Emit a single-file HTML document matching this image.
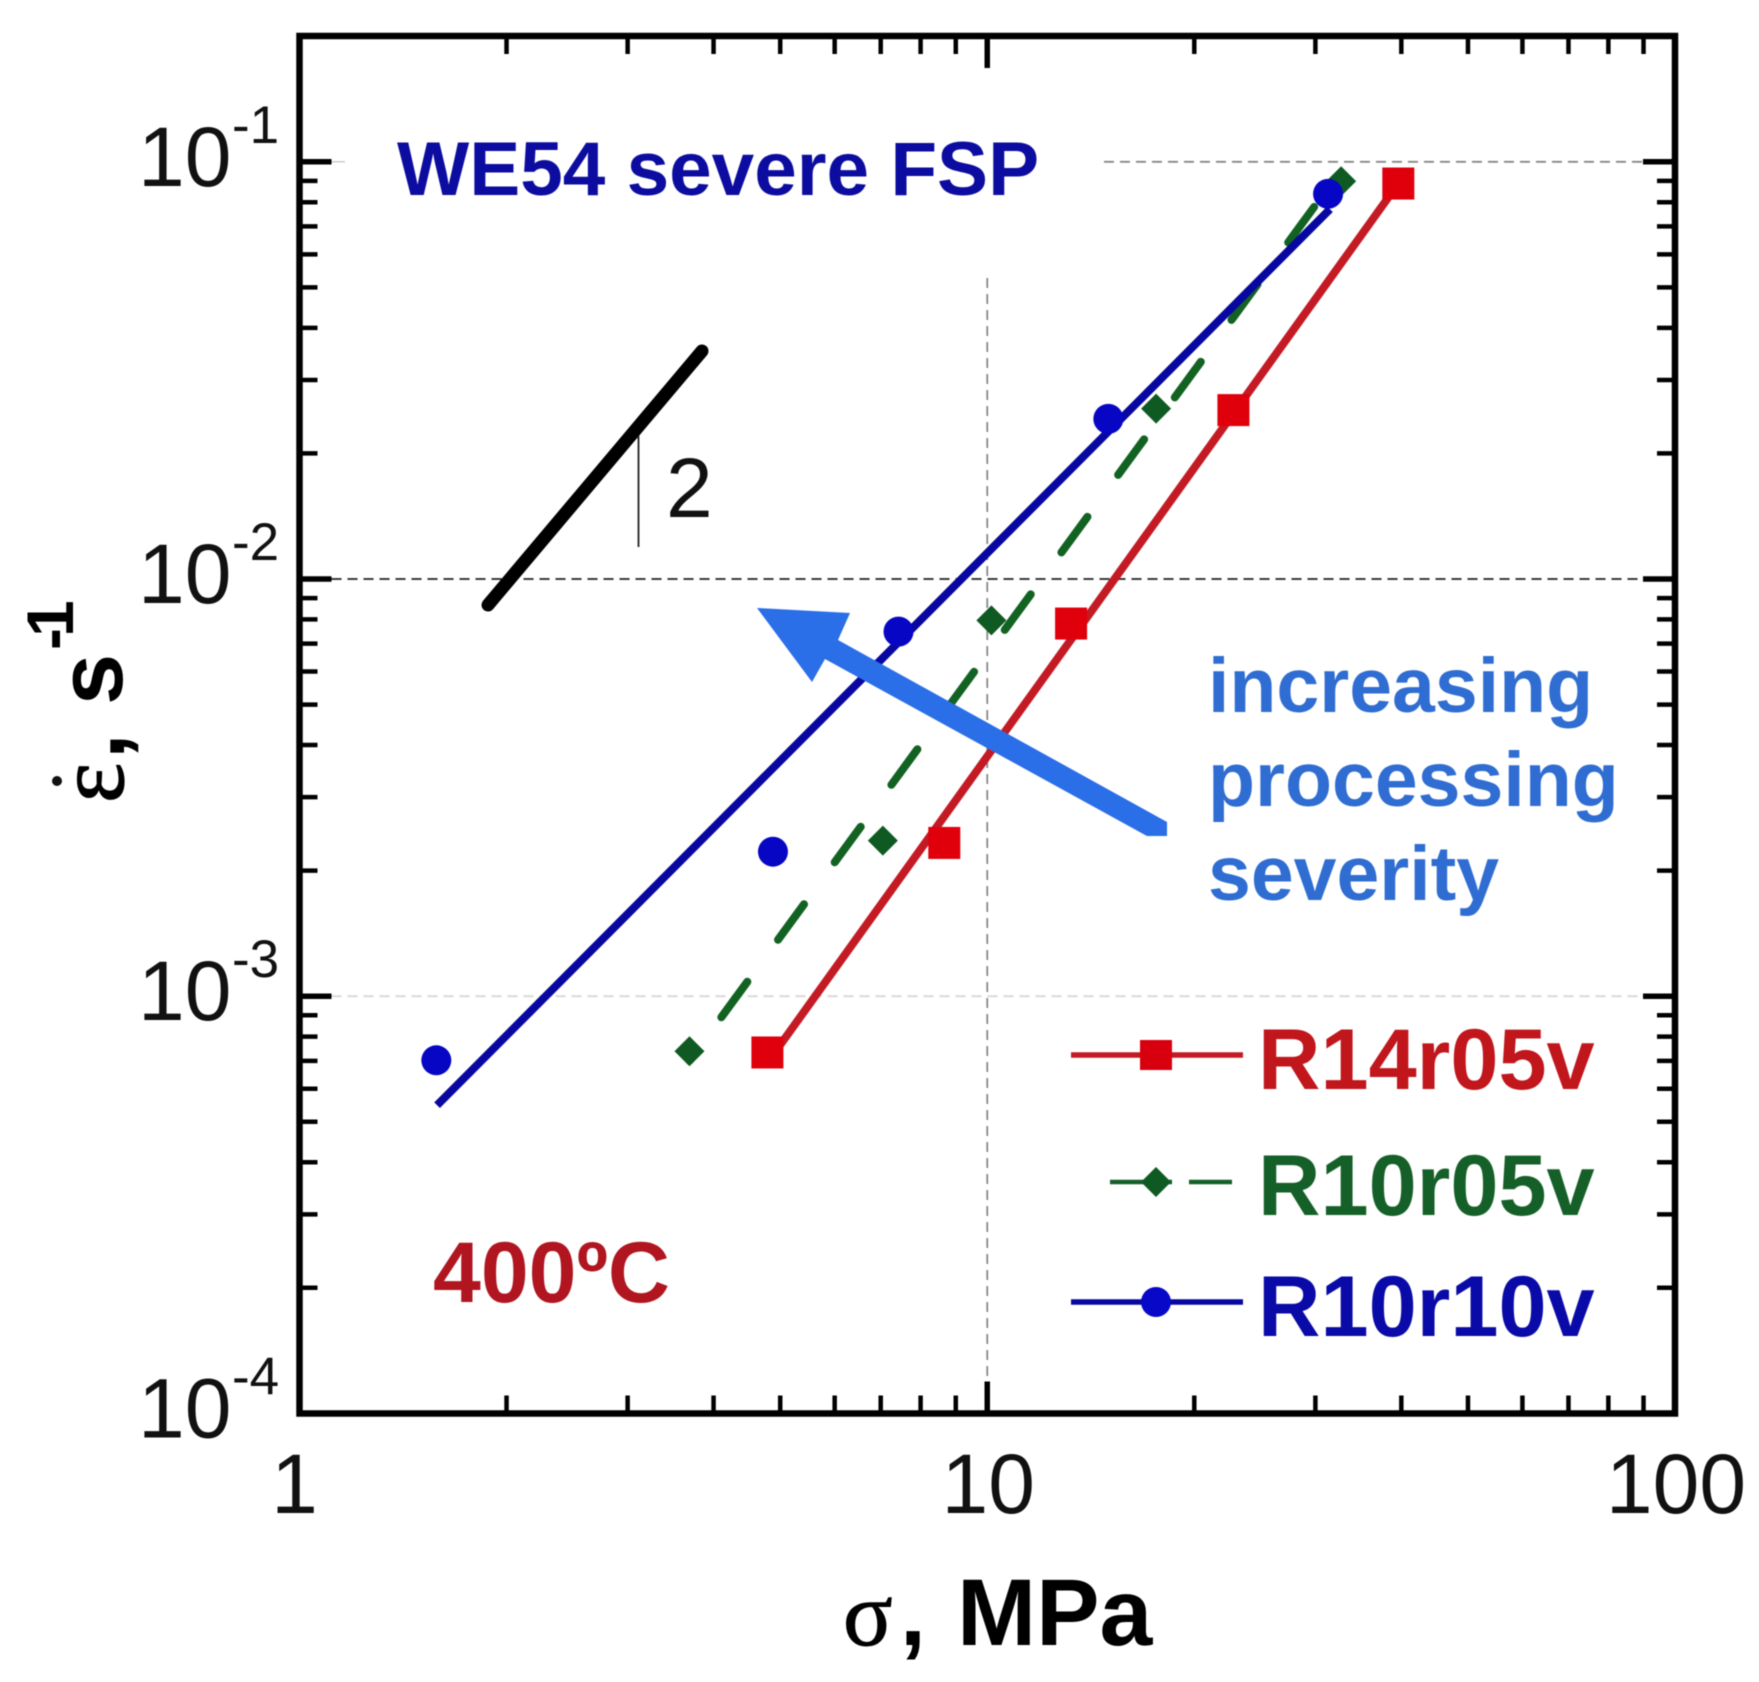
<!DOCTYPE html>
<html lang="en">
<head>
<meta charset="utf-8">
<title>WE54 severe FSP strain rate vs stress</title>
<style>
html,body{margin:0;padding:0;background:#fff;width:1759px;height:1682px;overflow:hidden}
svg{display:block;filter:blur(0.6px)}
text{font-family:"Liberation Sans",Arial,sans-serif}
.serif{font-family:"Liberation Serif","Times New Roman",serif}
</style>
</head>
<body>
<svg id="chart" xmlns="http://www.w3.org/2000/svg" width="1759" height="1682" viewBox="0 0 1759 1682">
<rect x="0" y="0" width="1759" height="1682" fill="#fff"/>
<g id="grid"></g>
<g id="ticks"></g>
<g id="series"></g>
<rect x="299.5" y="36" width="1375.5" height="1377.5" fill="none" stroke="#000" stroke-width="6.5"/>

<g>
<line x1="488" y1="605" x2="702" y2="351" stroke="#000" stroke-width="13" stroke-linecap="round"/>
<line x1="638.5" y1="436" x2="638.5" y2="547" stroke="#222" stroke-width="1.8"/>
<text x="666" y="517" font-size="84" fill="#111">2</text>
</g>

<polygon points="757,608 850,613 838,640 1167,822 1167,836 1147,836 825,659 812,682" fill="#2a6ee8"/>

<text x="397" y="195" font-size="76.5" font-weight="700" fill="#0c0ca0">WE54 severe FSP</text>
<text x="433" y="1302" font-size="86" font-weight="700" fill="#b01520">400ºC</text>
<g font-size="77" font-weight="700" fill="#2f6dd2">
<text x="1208" y="712">increasing</text>
<text x="1208" y="806">processing</text>
<text x="1208" y="900">severity</text>
</g>

<g>
<g>
<line x1="1071" y1="1055" x2="1243" y2="1055" stroke="#c41a24" stroke-width="5.5"/>
<rect x="1140" y="1040" width="32" height="30" fill="#d8000f"/>
<text x="1258" y="1089" font-size="86.5" font-weight="700" fill="#c0161c">R14r05v</text>
</g>
<g>
<line x1="1110" y1="1182" x2="1172" y2="1182" stroke="#156028" stroke-width="4.5"/>
<line x1="1189" y1="1182" x2="1232" y2="1182" stroke="#156028" stroke-width="4.5"/>
<polygon points="1156,1167 1171,1182 1156,1197 1141,1182" fill="#0f5a22"/>
<text x="1258" y="1215" font-size="86.5" font-weight="700" fill="#156028">R10r05v</text>
</g>
<g>
<line x1="1071" y1="1302" x2="1243" y2="1302" stroke="#0808a0" stroke-width="5.5"/>
<circle cx="1156" cy="1302" r="15" fill="#0808c8"/>
<text x="1258" y="1336" font-size="86.5" font-weight="700" fill="#0a0aa8">R10r10v</text>
</g>
</g>

<g fill="#000">
<text class="serif" x="843" y="1645" font-size="92" stroke="#000" stroke-width="1">σ</text>
<text x="900" y="1645" font-size="93" font-weight="700">,</text>
<text x="957" y="1645" font-size="95" font-weight="700">MPa</text>
</g>
<g fill="#000">
<circle cx="57" cy="781" r="5" fill="#111"/>
<text class="serif" transform="translate(123 803) rotate(-90)" font-size="96" stroke="#000" stroke-width="1.2">ε</text>
<text transform="translate(124 759) rotate(-90)" font-size="92" font-weight="700">,</text>
<text transform="translate(122 705) rotate(-90)" font-size="92" font-weight="700">s</text>
<text transform="translate(73 650) rotate(-90)" font-size="66" font-weight="700" letter-spacing="-9">-1</text>
</g>
<g id="tick-labels"></g>
</svg>

<script>
// Axis decades and tick labels
const xTickValues = [1, 10, 100];
const xTickLabels = ["1", "10", "100"];
const yTickValues = [1e-1, 1e-2, 1e-3, 1e-4];
const yTickBases = ["10", "10", "10", "10"];
const yTickExponents = ["-1", "-2", "-3", "-4"];
const minorMultipliers = [2, 3, 4, 5, 6, 7, 8, 9];

// R14r05v: measured points and fitted line
const r14Stress = [4.79, 8.66, 13.24, 22.8, 39.6];
const r14Rate = [7.33e-4, 2.33e-3, 7.82e-3, 2.54e-2, 8.87e-2];
const r14FitStress = [4.91, 39.6];
const r14FitRate = [7.33e-4, 8.87e-2];

// R10r05v: measured points and fitted line
const r10r05Stress = [3.69, 7.05, 10.14, 17.6, 32.7];
const r10r05Rate = [7.38e-4, 2.36e-3, 7.96e-3, 2.56e-2, 8.98e-2];
const r10r05FitStress = [3.69, 32.0];
const r10r05FitRate = [7.0e-4, 9.1e-2];

// R10r10v: measured points and fitted line
const r10r10Stress = [1.581, 4.88, 7.43, 15.0, 31.3];
const r10r10Rate = [7.02e-4, 2.22e-3, 7.48e-3, 2.42e-2, 8.38e-2];
const r10r10FitStress = [1.585, 31.5];
const r10r10FitRate = [5.48e-4, 7.7e-2];

const NS = 'http://www.w3.org/2000/svg';
const PLOT_LEFT = 299.5, X_DECADE = 687.75;
const Y_TOP_DECADE = 161.8, Y_DECADE = 417.2;

function sx(v) { return PLOT_LEFT + Math.log10(v) * X_DECADE; }
function sy(v) { return Y_TOP_DECADE + (-1 - Math.log10(v)) * Y_DECADE; }
function make(tag, attrs, parent, txt) {
  const el = document.createElementNS(NS, tag);
  for (const k in attrs) el.setAttribute(k, attrs[k]);
  if (txt !== undefined) el.textContent = txt;
  parent.appendChild(el);
  return el;
}

const gridG = document.getElementById('grid');
const ticksG = document.getElementById('ticks');
const seriesG = document.getElementById('series');
const labelsG = document.getElementById('tick-labels');
const frameL = 299.5, frameR = 1675, frameT = 36, frameB = 1413.5;

// Grid lines
const g1a = make('line', {x1: 1104, x2: frameR, y1: sy(1e-1), y2: sy(1e-1), stroke: '#888', 'stroke-width': 1.8, 'stroke-dasharray': '10 6'}, gridG);


const g1b = make('line', {x1: 303, x2: 345, y1: sy(1e-1), y2: sy(1e-1), stroke: '#ccc', 'stroke-width': 1.5}, gridG);


const g2 = make('line', {x1: frameL, x2: frameR, y1: sy(1e-2), y2: sy(1e-2), stroke: '#222', 'stroke-width': 1.8, 'stroke-dasharray': '10 6'}, gridG);


const g3 = make('line', {x1: frameL, x2: frameR, y1: sy(1e-3), y2: sy(1e-3), stroke: '#d8d8d8', 'stroke-width': 1.8, 'stroke-dasharray': '10 6'}, gridG);


const gx = make('line', {x1: sx(10), x2: sx(10), y1: 278, y2: frameB, stroke: '#888', 'stroke-width': 1.8, 'stroke-dasharray': '10 6'}, gridG);



// X ticks, top and bottom
xTickValues.forEach(function (dec, i) {
  if (i < xTickValues.length - 1) {
    minorMultipliers.forEach(function (m) {
      const x = sx(dec * m);
      const b = make('line', {x1: x, x2: x, y1: frameB, y2: frameB - 18, stroke: '#000', 'stroke-width': 4.5}, ticksG);
      
      
      const t = make('line', {x1: x, x2: x, y1: frameT, y2: frameT + 18, stroke: '#000', 'stroke-width': 4.5}, ticksG);
      
      
    });
  }
  const x = sx(dec);
  const mb = make('line', {x1: x, x2: x, y1: frameB, y2: frameB - 32, stroke: '#000', 'stroke-width': 5.5}, ticksG);
  
  
  const mt = make('line', {x1: x, x2: x, y1: frameT, y2: frameT + 32, stroke: '#000', 'stroke-width': 5.5}, ticksG);
  
  
  const lab = make('text', {x: x + (i === 0 ? -5 : 1), y: 1513, 'font-size': 84, fill: '#111', 'text-anchor': 'middle'}, labelsG, xTickLabels[i]);
  
  
});

// Y ticks, left and right
yTickValues.forEach(function (dec, i) {
  minorMultipliers.forEach(function (m) {
    const v = dec * m;
    if (v > 0.2) return;
    const y = sy(v);
    const l = make('line', {x1: frameL, x2: frameL + 18, y1: y, y2: y, stroke: '#000', 'stroke-width': 4.5}, ticksG);
    
    
    const r = make('line', {x1: frameR, x2: frameR - 18, y1: y, y2: y, stroke: '#000', 'stroke-width': 4.5}, ticksG);
    
    
  });
  const y = sy(dec);
  const ml = make('line', {x1: frameL, x2: frameL + 32, y1: y, y2: y, stroke: '#000', 'stroke-width': 5.5}, ticksG);
  
  
  const mr = make('line', {x1: frameR, x2: frameR - 32, y1: y, y2: y, stroke: '#000', 'stroke-width': 5.5}, ticksG);
  
  
  const base = make('text', {x: 138, y: y + 24, 'font-size': 84, fill: '#111'}, labelsG, yTickBases[i]);
  
  
  const exp = make('text', {x: 232, y: y - 19, 'font-size': 53, fill: '#111'}, labelsG, yTickExponents[i]);
  
  
});

// Fitted lines
const r14Line = make('line', {x1: sx(r14FitStress[0]), y1: sy(r14FitRate[0]), x2: sx(r14FitStress[1]), y2: sy(r14FitRate[1]), stroke: '#c41a24', 'stroke-width': 8}, seriesG);


const r10r05Line = make('line', {x1: sx(r10r05FitStress[0]), y1: sy(r10r05FitRate[0]), x2: sx(r10r05FitStress[1]), y2: sy(r10r05FitRate[1]), stroke: '#126222', 'stroke-width': 8, 'stroke-linecap': 'round', 'stroke-dasharray': '44 52', 'stroke-dashoffset': 42}, seriesG);


const r10r10Line = make('line', {x1: sx(r10r10FitStress[0]), y1: sy(r10r10FitRate[0]), x2: sx(r10r10FitStress[1]), y2: sy(r10r10FitRate[1]), stroke: '#0808a0', 'stroke-width': 8}, seriesG);



// Markers
r14Stress.forEach(function (s, i) {
  const m = make('rect', {x: sx(s) - 16, y: sy(r14Rate[i]) - 16, width: 32, height: 32, fill: '#e0000c'}, seriesG);
  
  
});
r10r05Stress.forEach(function (s, i) {
  const x = sx(s), y = sy(r10r05Rate[i]);
  const m = make('polygon', {points: [x, y - 15, x + 15, y, x, y + 15, x - 15, y].join(' '), fill: '#0f5a22'}, seriesG);
  
  
});
r10r10Stress.forEach(function (s, i) {
  const m = make('circle', {cx: sx(s), cy: sy(r10r10Rate[i]), r: 15, fill: '#0606c4'}, seriesG);
  
  
});
</script>
</body>
</html>
